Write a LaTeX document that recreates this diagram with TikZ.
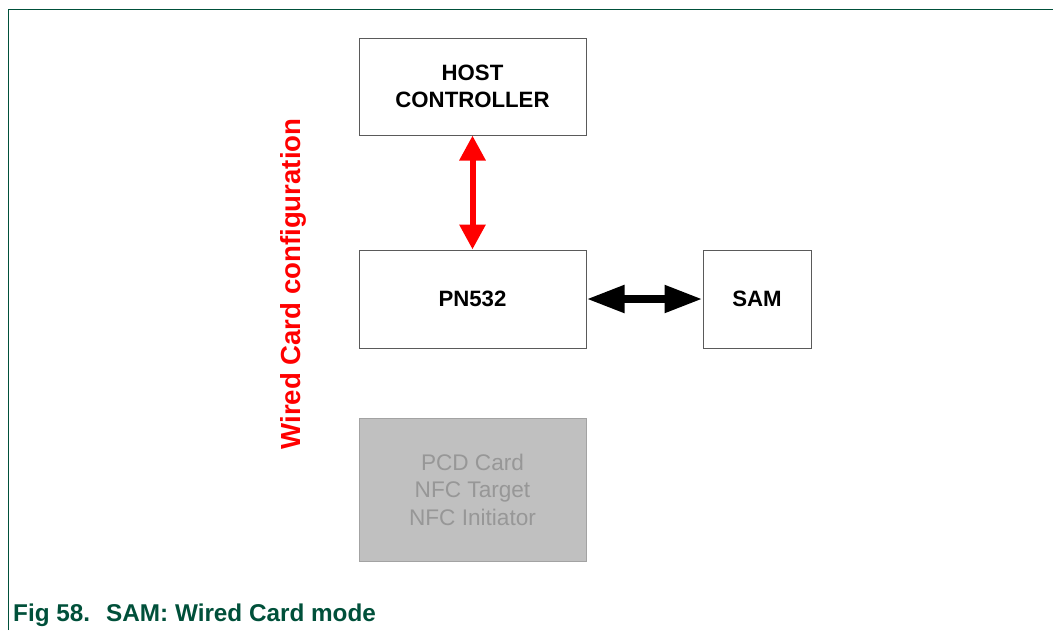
\documentclass[tikz,border=0pt]{standalone}
\usepackage{fontspec}
\setmainfont{Liberation Sans}
\usepackage{xcolor}
\usepackage{tikz}
\usetikzlibrary{arrows.meta,positioning}

\definecolor{framegreen}{HTML}{00503A}
\definecolor{boxgray}{HTML}{5A5A5A}
\definecolor{greyfill}{HTML}{C0C0C0}
\definecolor{greyline}{HTML}{A3A3A3}
\definecolor{greytext}{HTML}{979797}

\begin{document}
\begin{tikzpicture}[
  x=1pt, y=-1pt,
  font=\fontsize{22.2}{27}\selectfont,
  block/.style={draw=boxgray, line width=1pt, fill=white, align=center,
    inner sep=0pt, minimum width=227pt, minimum height=97pt, font=\fontsize{22.2}{27.5}\selectfont\bfseries},
  greyblock/.style={block, draw=greyline, fill=greyfill, text=greytext,
    minimum height=143pt, font=\fontsize{22.6}{27.5}\selectfont},
  redlink/.style={draw=red, line width=6pt,
    {Triangle[length=25pt,width=25pt]}-{Triangle[length=25pt,width=25pt]}},
  blacklink/.style={draw=black, line width=8pt,
    {Triangle[length=38pt,width=26pt]}-{Triangle[length=38pt,width=26pt]}}
]
\useasboundingbox (0,0) rectangle (1053,630);

% frame
\draw[framegreen, line width=1.2pt] (8.5,630) -- (8.5,9.5) -- (1053,9.5);

\node[block] (host) at (472.5,86.5) {HOST\\CONTROLLER};
\node[block, minimum height=98pt, below=114pt of host] (pn) {PN532};
\node[block, minimum width=108pt, minimum height=98pt, right=116pt of pn] (sam) {SAM};
\node[greyblock, below=69pt of pn] (pcd) {PCD Card\\NFC Target\\NFC Initiator};

\draw[redlink] (host) -- (pn);
\draw[blacklink] (pn) -- (sam);

\node[rotate=90, text=red, font=\fontsize{27.6}{30}\selectfont\bfseries] (mode) at (293,284)
  {Wired Card configuration};

\node[anchor=base west, text=framegreen, inner sep=0pt,
  font=\fontsize{24.3}{28}\selectfont\bfseries] (caption) at (13,621)
  {Fig 58.\hspace{16pt}SAM: Wired Card mode};
\end{tikzpicture}
\end{document}
